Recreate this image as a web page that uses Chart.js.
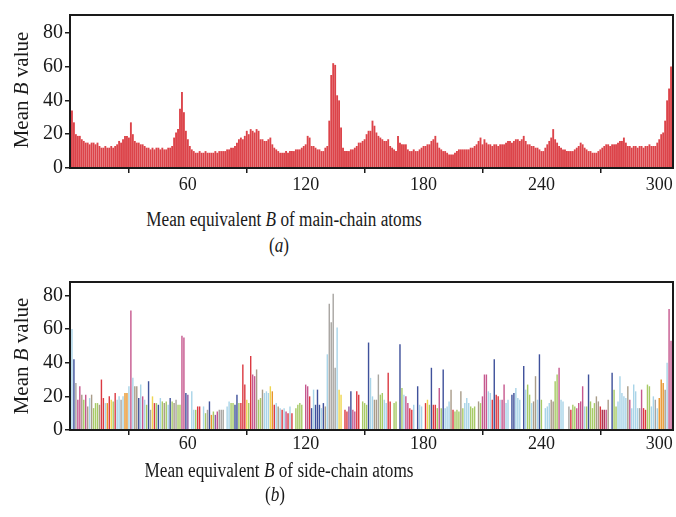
<!DOCTYPE html>
<html>
<head>
<meta charset="utf-8">
<script src="https://cdn.jsdelivr.net/npm/chart.js"></script>
<style>
  body { margin: 0; background: #fff; }
  #page { position: relative; width: 676px; height: 517px; overflow: hidden; font-family: 'Liberation Serif', 'Times New Roman', serif; color: #1a1a1a; }
  canvas { position: absolute; left: 0; }
  .lbl { position: absolute; white-space: nowrap; transform: translate(-50%, -50%) scaleX(0.86); font-size: 20px; }
  .ytl { position: absolute; white-space: nowrap; transform: translate(-50%, -50%) rotate(-90deg); font-size: 21px; }
</style>
</head>
<body>
<div id="page">
  <canvas id="mainChart" width="676" height="200" style="top:0"></canvas>
  <canvas id="sideChart" width="676" height="196" style="top:268px"></canvas>
  <div class="ytl" style="left:21px; top:90px">Mean <i>B</i> value</div>
  <div class="lbl" style="left:284px; top:219px">Mean equivalent <i>B</i> of main-chain atoms</div>
  <div class="lbl" style="left:279px; top:245px">(<i>a</i>)</div>
  <div class="ytl" style="left:21px; top:356px">Mean <i>B</i> value</div>
  <div class="lbl" style="left:279px; top:470px">Mean equivalent <i>B</i> of side-chain atoms</div>
  <div class="lbl" style="left:275px; top:494px">(<i>b</i>)</div>
</div>
<script>
// tick labels
const xTicks = [60, 120, 180, 240, 300];
const yTicks = [0, 20, 40, 60, 80];

// mean B of main-chain atoms, residues 1..306
const mainB = [
  34, 27, 20, 19, 19, 17, 16, 15, 15, 14,
  15, 15, 14, 15, 13, 12, 12, 13, 12, 12,
  13, 12, 13, 14, 16, 15, 17, 19, 19, 18,
  27, 20, 16, 15, 15, 14, 14, 13, 12, 12,
  11, 12, 11, 12, 12, 11, 12, 11, 11, 12,
  12, 13, 18, 21, 23, 35, 45, 33, 22, 17,
  13, 11, 10, 9, 9, 10, 9, 9, 10, 9,
  9, 9, 9, 10, 9, 10, 10, 10, 10, 11,
  11, 12, 12, 13, 15, 17, 18, 17, 19, 22,
  20, 23, 22, 21, 23, 22, 17, 17, 16, 16,
  17, 18, 14, 12, 11, 10, 9, 9, 9, 10,
  9, 10, 10, 10, 11, 11, 11, 12, 13, 14,
  19, 18, 13, 13, 12, 11, 11, 10, 10, 12,
  13, 28, 55, 62, 61, 43, 40, 24, 12, 10,
  10, 10, 11, 11, 12, 13, 15, 15, 16, 17,
  20, 22, 22, 28, 25, 21, 19, 18, 17, 16,
  16, 17, 13, 12, 11, 10, 19, 15, 14, 14,
  14, 11, 10, 10, 11, 10, 10, 11, 12, 13,
  13, 14, 14, 16, 17, 19, 15, 12, 11, 10,
  10, 9, 8, 8, 8, 9, 10, 11, 11, 11,
  11, 11, 11, 12, 12, 13, 14, 16, 18, 14,
  17, 15, 14, 14, 13, 14, 14, 13, 14, 14,
  14, 15, 16, 16, 15, 16, 17, 17, 16, 17,
  19, 16, 14, 14, 13, 13, 12, 12, 11, 10,
  10, 12, 14, 16, 18, 23, 17, 15, 13, 12,
  11, 11, 10, 10, 10, 10, 11, 12, 13, 15,
  14, 12, 11, 10, 10, 9, 9, 9, 10, 11,
  12, 13, 14, 14, 13, 14, 14, 14, 15, 16,
  16, 18, 15, 13, 13, 12, 13, 13, 12, 13,
  13, 12, 13, 13, 14, 13, 13, 13, 15, 17,
  20, 21, 28, 40, 47, 60
];

// mean B of side-chain atoms, residues 1..306 (0 = no side chain)
const sideB = [
  60, 42, 28, 18, 26, 21, 18, 21, 14, 19,
  21, 13, 16, 16, 15, 30, 19, 16, 16, 20,
  18, 17, 22, 18, 20, 18, 20, 22, 22, 26,
  71, 31, 26, 26, 19, 27, 20, 18, 15, 29,
  12, 20, 16, 16, 15, 19, 17, 16, 17, 15,
  19, 17, 16, 18, 15, 15, 56, 55, 22, 21,
  0, 23, 12, 12, 14, 14, 0, 14, 10, 12,
  17, 9, 11, 9, 11, 12, 12, 12, 0, 14,
  17, 16, 16, 15, 21, 16, 16, 39, 27, 18,
  16, 44, 33, 32, 36, 18, 19, 24, 22, 23,
  22, 26, 23, 15, 16, 14, 13, 12, 13, 11,
  10, 14, 10, 0, 13, 15, 16, 15, 0, 27,
  26, 20, 13, 24, 15, 24, 15, 13, 16, 14,
  45, 75, 64, 81, 37, 61, 24, 21, 0, 12,
  11, 14, 23, 12, 11, 23, 21, 0, 17, 16,
  15, 52, 31, 20, 18, 18, 33, 21, 22, 18,
  16, 34, 17, 0, 16, 17, 0, 51, 25, 21,
  20, 16, 13, 12, 15, 0, 26, 15, 14, 0,
  16, 18, 15, 37, 15, 15, 13, 25, 13, 36,
  13, 14, 17, 24, 12, 11, 12, 11, 23, 13,
  16, 19, 16, 14, 13, 14, 0, 17, 16, 20,
  33, 33, 23, 22, 18, 42, 21, 20, 18, 18,
  27, 16, 18, 0, 21, 22, 25, 19, 18, 0,
  38, 24, 27, 21, 16, 17, 32, 18, 45, 18,
  0, 13, 14, 16, 18, 17, 29, 33, 37, 18,
  17, 0, 0, 14, 12, 15, 14, 13, 16, 17,
  26, 14, 14, 33, 17, 13, 16, 20, 17, 14,
  12, 12, 12, 18, 0, 34, 24, 14, 17, 32,
  22, 20, 19, 26, 18, 13, 27, 23, 13, 13,
  24, 13, 12, 27, 26, 14, 20, 18, 13, 19,
  30, 28, 24, 40, 72, 53
];

// residue type group for each side chain bar (sets its colour)
const sideGroups =
  'LDAMMTGMTL' + 'TGGGTRRLOR' + 'YGRLLALOOL' + 'MLTTDLMLGD' + 'AYRGDLGTGL' +
  'DGTAGGMMDP' + 'GLLGRRGLGA' + 'DOGPMAAAGL' + 'LGGDDGRRRY' + 'GRMMTGGTLL' +
  'LYORLTLRLM' + 'RLRGGGGGGM' + 'MRDLDDDLDT' + 'LAAAALYYGR' + 'RPDMMRRGGG' +
  'GDLLTTAGGL' + 'LRRGGGGDGL' + 'MMRRLLDLLL' + 'RYGDRRGMGD' + 'LLLTRGGGTG' +
  'LLLGGGGTGM' + 'MMLLRDRRLM' + 'MLLLDDLLLL' + 'DLGGLTTLDG' + 'LLLLTTGGML' +
  'LLLARGGMMM' + 'MLGDGGGTTR' + 'KKMTTDGGLL' + 'LLLTMLLLLA' + 'MRRGGLLALO' +
  'OOTLMM';

const groupColors = {
  L: '#a9d4e8', D: '#3f519b', M: '#c6588e', T: '#a99c89', A: '#a8a5a1',
  G: '#a7ca66', R: '#db3a42', Y: '#efd650', O: '#e8952c', P: '#8e5ca6', K: '#b03450'
};

const FONT = "'Liberation Serif', 'Times New Roman', serif";

const framePlugin = {
  id: 'frame',
  afterDraw(chart) {
    const { ctx, chartArea } = chart;
    ctx.save();
    ctx.strokeStyle = '#1a1a1a';
    ctx.lineWidth = 2;
    ctx.strokeRect(chartArea.left, chartArea.top, chartArea.right - chartArea.left, chartArea.bottom - chartArea.top);
    ctx.restore();
  }
};

function makeChart(canvasId, values, colors, opts) {
  const points = values.map((v, i) => ({ x: i + 1, y: v }));
  return new Chart(document.getElementById(canvasId), {
    type: 'bar',
    data: {
      datasets: [{
        data: points,
        backgroundColor: colors,
        borderWidth: 0,
        barPercentage: opts.barPct,
        categoryPercentage: 1
      }]
    },
    options: {
      responsive: false,
      animation: false,
      layout: { padding: { top: opts.top, right: 3, left: 0, bottom: 0 } },
      plugins: { legend: { display: false }, tooltip: { enabled: false } },
      scales: {
        x: {
          type: 'linear',
          min: 0,
          max: 307,
          offset: false,
          afterBuildTicks: s => { s.ticks = xTicks.map(v => ({ value: v })); },
          afterFit: s => { s.height = opts.xHeight; },
          grid: { drawOnChartArea: false, drawTicks: true, tickLength: 5, color: '#1a1a1a', lineWidth: 1.5 },
          border: { display: true, color: '#1a1a1a', width: 2 },
          ticks: { color: '#1a1a1a', padding: opts.xPad, maxRotation: 0, font: { family: FONT, size: 18 } }
        },
        y: {
          min: 0,
          max: opts.yMax,
          afterBuildTicks: s => { s.ticks = yTicks.map(v => ({ value: v })); },
          afterFit: s => { s.width = 70; },
          grid: { drawOnChartArea: false, drawTicks: true, tickLength: 5, color: '#1a1a1a', lineWidth: 1.5 },
          border: { display: true, color: '#1a1a1a', width: 2 },
          ticks: { color: '#1a1a1a', padding: 2, font: { family: FONT, size: 20 } }
        }
      }
    },
    plugins: [framePlugin]
  });
}

makeChart('mainChart', mainB, '#dc4349', { top: 15, xHeight: 32, xPad: 1, yMax: 90.5, barPct: 0.95 });
makeChart('sideChart', sideB, sideB.map((v, i) => groupColors[sideGroups[i]]), { top: 14, xHeight: 34, xPad: -2, yMax: 88, barPct: 0.72 });
</script>
</body>
</html>
